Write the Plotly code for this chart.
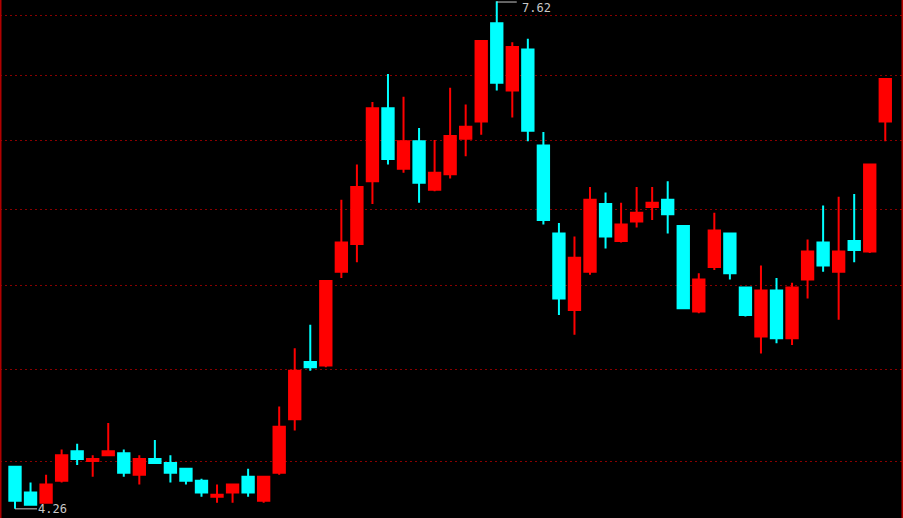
import math
import plotly.graph_objects as go

idx = list(range(57))
opens = [4.47, 4.34, 4.29, 4.40, 4.55, 4.50, 4.53, 4.54, 4.43, 4.51,
         4.49, 4.46, 4.40, 4.32, 4.34, 4.42, 4.30, 4.44, 4.72, 5.04,
         5.02, 5.59, 5.77, 6.20, 6.74, 6.29, 6.49, 6.14, 6.25, 6.51,
         6.64, 7.43, 6.88, 7.21, 6.46, 5.84, 5.35, 5.59, 6.04, 5.79,
         5.92, 6.02, 6.07, 5.89, 5.34, 5.62, 5.84, 5.49, 5.19, 5.47,
         5.18, 5.54, 5.78, 5.59, 5.79, 5.72, 6.64]
highs = [4.47, 4.39, 4.43, 4.56, 4.59, 4.53, 4.70, 4.56, 4.53, 4.61,
         4.53, 4.46, 4.41, 4.38, 4.38, 4.46, 4.42, 4.79, 5.12, 5.26,
         5.53, 6.07, 6.32, 6.79, 7.01, 6.83, 6.59, 6.50, 6.90, 6.77,
         7.28, 7.62, 7.27, 7.30, 6.56, 5.91, 5.82, 6.16, 6.12, 6.05,
         6.16, 6.16, 6.20, 5.89, 5.58, 5.98, 5.84, 5.49, 5.63, 5.55,
         5.52, 5.80, 6.03, 6.09, 6.11, 6.32, 6.97]
lows = [4.26, 4.28, 4.29, 4.39, 4.48, 4.42, 4.53, 4.42, 4.38, 4.49,
        4.39, 4.38, 4.32, 4.29, 4.29, 4.32, 4.29, 4.43, 4.66, 4.99,
        5.01, 5.55, 5.65, 6.04, 6.32, 6.26, 6.05, 6.13, 6.22, 6.38,
        6.54, 6.88, 6.67, 6.49, 5.90, 5.32, 5.20, 5.57, 5.74, 5.78,
        5.88, 5.93, 5.84, 5.36, 5.33, 5.60, 5.54, 5.31, 5.09, 5.15,
        5.14, 5.42, 5.59, 5.29, 5.65, 5.71, 6.49]
closes = [4.30, 4.28, 4.38, 4.53, 4.51, 4.51, 4.55, 4.44, 4.51, 4.49,
          4.44, 4.40, 4.34, 4.33, 4.38, 4.34, 4.42, 4.68, 4.99, 5.01,
          5.53, 5.78, 6.16, 6.74, 6.36, 6.49, 6.19, 6.26, 6.53, 6.60,
          7.28, 6.94, 7.23, 6.57, 5.93, 5.42, 5.68, 6.07, 5.82, 5.90,
          5.98, 6.05, 5.97, 5.36, 5.54, 5.86, 5.58, 5.32, 5.47, 5.18,
          5.49, 5.72, 5.63, 5.72, 5.73, 6.32, 6.97]
grid_vals = [4.5, 5.0, 5.5, 6.0, 6.5, 7.0, 7.5]
max_label = "7.62"
min_label = "4.26"

fig = go.Figure()
fig.add_trace(go.Candlestick(
    x=idx, open=opens, high=highs, low=lows, close=closes,
    increasing=dict(line=dict(color="#ff0000", width=2), fillcolor="#ff0000"),
    decreasing=dict(line=dict(color="#00ffff", width=2), fillcolor="#00ffff"),
    whiskerwidth=0, showlegend=False, hoverinfo="skip",
))

imax = highs.index(max(highs))
imin = lows.index(min(lows))
ann_font = dict(family="DejaVu Sans Mono", size=12, color="#c8c8c8")

# max marker: horizontal connector + label kept inside the page
fig.add_annotation(x=imax, y=math.log10(highs[imax]) - 0.0004, text=" ", showarrow=True,
                   arrowhead=0, arrowwidth=1, arrowcolor="#c8c8c8",
                   ax=24, ay=0, standoff=0, borderpad=0, font=ann_font)
fig.add_annotation(x=imax, y=math.log10(highs[imax]), text=max_label, showarrow=False,
                   xshift=24, xanchor="left", yanchor="top", yshift=1,
                   font=ann_font, borderpad=0)

fig.add_annotation(x=imin, y=math.log10(lows[imin]), text=min_label, showarrow=True,
                   arrowhead=0, arrowwidth=1, arrowcolor="#c8c8c8",
                   ax=22, ay=0, xanchor="left", yanchor="middle",
                   font=ann_font, standoff=0, borderpad=0)

fig.add_shape(type="line", xref="paper", yref="paper", x0=0, x1=0, y0=0, y1=1,
              line=dict(color="#b00000", width=3))
fig.add_shape(type="line", xref="paper", yref="paper", x0=1, x1=1, y0=0, y1=1,
              line=dict(color="#b00000", width=3))

fig.update_layout(
    width=903, height=518,
    margin=dict(l=0, r=0, t=0, b=0),
    paper_bgcolor="#000000", plot_bgcolor="#000000",
    boxgap=0.27, boxgroupgap=0,
    xaxis=dict(range=[-0.965, 57.14], showgrid=False, zeroline=False,
               showticklabels=False, ticks="", rangeslider=dict(visible=False),
               showline=False),
    yaxis=dict(type="log", range=[0.62486, 0.88256], tickmode="array",
               tickvals=grid_vals, showticklabels=False, ticks="",
               showgrid=True, gridcolor="#8a0000", gridwidth=1,
               griddash="2px,3px", zeroline=False, showline=False),
)

fig.write_html(
    "out.html",
    config=dict(displayModeBar=False),
    post_script="document.body.style.margin='0';document.body.style.padding='0';"
                "document.body.style.overflow='hidden';document.body.style.background='#000';",
)
